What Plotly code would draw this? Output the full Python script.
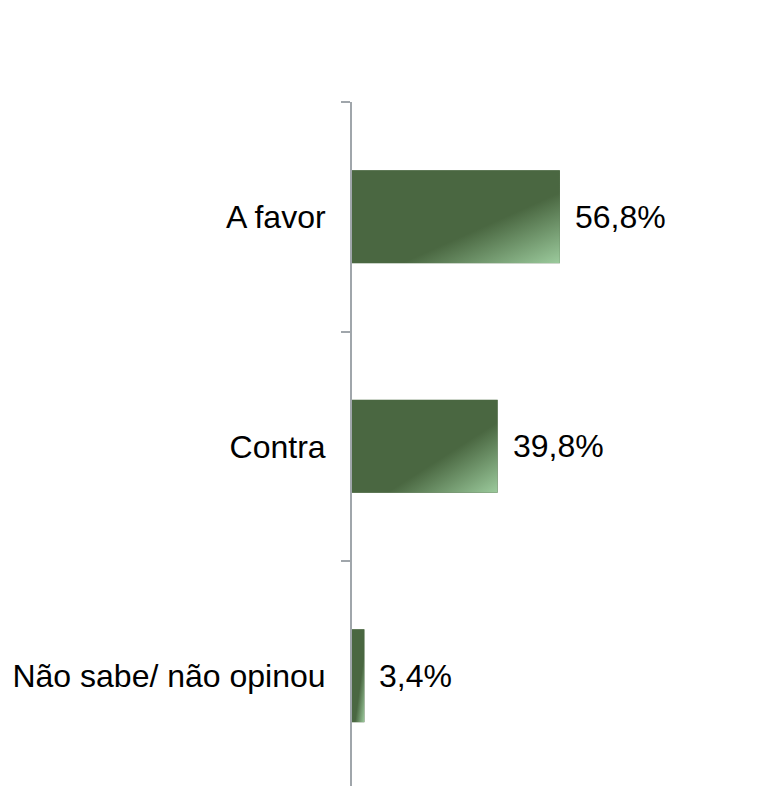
import base64
import plotly.graph_objects as go

categories = ["A favor", "Contra", "Não sabe/ não opinou"]
values = [56.8, 39.8, 3.4]
value_labels = ["56,8%", "39,8%", "3,4%"]

DARK = "#4a6741"
LIGHT = "#9ccb9d"
BAR_WIDTH = 0.405
FONT = "Liberation Sans, Arial, sans-serif"

grad_svg = (
    '<svg xmlns="http://www.w3.org/2000/svg" width="100" height="100" viewBox="0 0 100 100" preserveAspectRatio="none">'
    '<defs><linearGradient id="g" x1="0" y1="0" x2="1" y2="1">'
    f'<stop offset="0" stop-color="{DARK}"/><stop offset="0.62" stop-color="{DARK}"/>'
    f'<stop offset="1" stop-color="{LIGHT}"/></linearGradient></defs>'
    '<rect x="0" y="0" width="100" height="100" fill="url(#g)"/></svg>'
)
grad_uri = "data:image/svg+xml;base64," + base64.b64encode(grad_svg.encode()).decode()

fig = go.Figure(
    go.Bar(
        x=values,
        y=categories,
        orientation="h",
        width=BAR_WIDTH,
        marker=dict(color=DARK, line=dict(width=0)),
        hoverinfo="skip",
    )
)

images = []
annotations = []
for i, (v, lab) in enumerate(zip(values, value_labels)):
    images.append(dict(
        source=grad_uri, xref="x", yref="y",
        x=0, y=i - BAR_WIDTH / 2, sizex=v, sizey=BAR_WIDTH,
        xanchor="left", yanchor="top", sizing="stretch", layer="above",
    ))
    annotations.append(dict(
        x=v, y=categories[i], xref="x", yref="y", text=lab, showarrow=False,
        xanchor="left", yanchor="middle", xshift=13,
        font=dict(family=FONT, size=32, color="#000000"),
    ))

fig.update_layout(
    width=751, height=778,
    margin=dict(l=344, r=41, t=94, b=0),
    paper_bgcolor="white", plot_bgcolor="white",
    showlegend=False,
    images=images,
    annotations=annotations,
    xaxis=dict(range=[0, 100], visible=False, fixedrange=True),
    yaxis=dict(
        type="category",
        range=[2.48, -0.5],
        showline=True, linecolor="#a0a6ab", linewidth=2,
        ticks="outside", tickson="boundaries", ticklen=9, tickwidth=2, tickcolor="#a0a6ab",
        showgrid=False, zeroline=False,
        tickfont=dict(family=FONT, size=32, color="#000000"),
        ticklabelstandoff=18,
        automargin=False,
    ),
)

fig.write_html("out.html")
